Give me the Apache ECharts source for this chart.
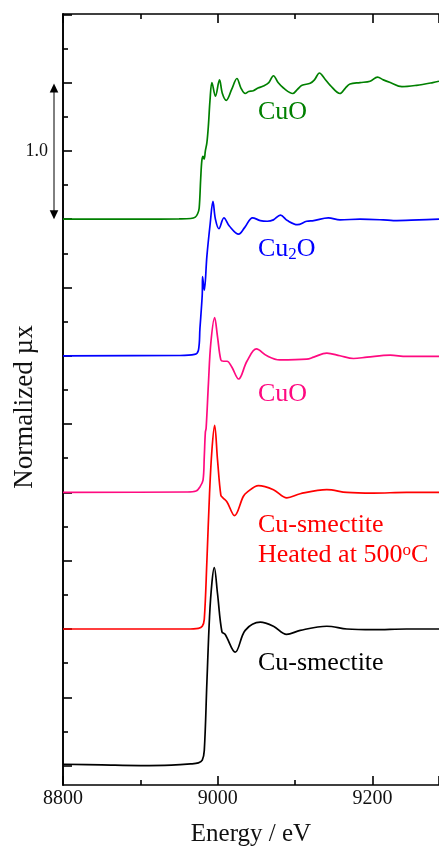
<!DOCTYPE html>
<html>
<head>
<meta charset="utf-8">
<script src="https://cdn.jsdelivr.net/npm/echarts@6/dist/echarts.min.js"></script>
<style>html,body{margin:0;padding:0;background:#fff}#c{width:439px;height:846px}</style>
</head>
<body>
<div id="c"></div>
<script>
// ---- data (energy in eV, normalized absorption) ----
const seriesNames = ['CuO', 'Cu2O', 'CuO (ref)', 'Cu-smectite 500C', 'Cu-smectite'];
const offsets = [4, 3, 2, 1, 0];

const cuoTopE  = [8800,8900,8950,8965,8971,8974,8976,8978,8979.5,8981,8982.5,8984,8986,8988,8990,8992.5,8997,9002.3,9006,9011,9018,9024.8,9030,9035.5,9040,9046,9052,9059,9066,9072,9078,9085,9097,9103,9109,9119.5,9125,9131.5,9138,9145.4,9158,9165,9171,9184,9197,9206.5,9214,9223,9238,9257,9278,9286];
const cuoTopMu = [0,0,0.002,0.005,0.015,0.04,0.08,0.3,0.43,0.46,0.44,0.5,0.56,0.69,0.87,1.0,0.9,1.02,0.92,0.87,0.95,1.03,0.96,0.92,0.935,0.94,0.96,0.975,1.0,1.05,1.0,0.96,0.92,0.95,0.98,0.995,1.02,1.07,1.03,0.98,0.92,0.96,0.99,1.0,1.01,1.04,1.02,1.0,0.97,0.98,1.0,1.01];

const cu2oE  = [8800,8950,8970,8975,8977,8980,8980.4,8982.6,8986,8990.3,8993.8,8997,9001.5,9008,9015,9027,9035,9045,9055,9064,9072,9081,9090,9103,9115,9124,9143,9158,9184,9214,9227,9260,9286];
const cu2oMu = [0,0.002,0.01,0.04,0.2,0.45,0.58,0.48,0.73,0.97,1.13,1.0,0.93,1.01,0.95,0.89,0.94,1.01,0.99,0.985,0.995,1.03,0.99,0.96,0.985,0.99,1.01,0.995,1.0,0.995,0.99,0.995,1.0];

const cuoRefE  = [8800,8960,8972,8977,8981,8982.6,8984,8985,8988,8991,8996,8999.7,9004,9007.5,9012,9018,9027,9037.7,9050,9063.6,9080,9115,9124,9141,9158,9175.5,9193,9223,9244,9286];
const cuoRefMu = [0,0.003,0.01,0.04,0.09,0.26,0.44,0.47,0.8,1.09,1.28,1.14,0.97,0.96,0.96,0.92,0.83,0.96,1.05,1.0,0.97,0.975,0.99,1.02,1.0,0.98,0.99,1.005,0.995,0.995];

const heatedE  = [8800,8960,8975,8980,8982.6,8986,8989.4,8992.5,8996,8999.7,9004,9006.7,9012,9021.7,9033,9037.7,9052.7,9072,9089.4,9106.6,9141,9167,9201,9244,9286];
const heatedMu = [0,0,0.005,0.02,0.07,0.5,0.99,1.31,1.49,1.24,0.98,0.96,0.93,0.83,0.97,1.0,1.05,1.02,0.96,0.99,1.02,1.0,0.995,1.0,1.0];

const smectE  = [8800,8850,8900,8940,8965,8975,8980,8982.6,8986,8989.4,8992.5,8995.5,8999.7,9005.4,9009.7,9022.6,9035.5,9055,9072,9089,9106.6,9141,9167,9201,9244,9286];
const smectMu = [0.01,0.005,0,0.003,0.012,0.02,0.04,0.11,0.61,1.09,1.34,1.45,1.26,0.98,0.96,0.83,0.99,1.05,1.02,0.96,0.99,1.02,1.0,0.995,1.0,1.0];

const colors = ['#008000', '#0000ff', '#ff0a80', '#ff0000', '#000000'];
const yMajorTicks = [0,0.5,1,1.5,2,2.5,3,3.5,4,4.5,5,5.5];
const yMinorTicks = [0.25,0.75,1.25,1.75,2.25,2.75,3.25,3.75,4.25,4.75,5.25];
const scaleLabelValue = 4.5;
const scaleLabelText = '1.0';
const yTitle = 'Normalized µx';
const xTitle = 'Energy / eV';

const allE = [cuoTopE, cu2oE, cuoRefE, heatedE, smectE];
const allMu = [cuoTopMu, cu2oMu, cuoRefMu, heatedMu, smectMu];

const FONT = "'Liberation Serif','Times New Roman',serif";
const chart = echarts.init(document.getElementById('c'), null, {renderer: 'canvas'});

const series = allE.map((E, i) => ({
  name: seriesNames[i],
  type: 'line',
  xAxisIndex: 0,
  yAxisIndex: 0,
  data: E.map((e, k) => [e, allMu[i][k] + offsets[i]]),
  showSymbol: false,
  smooth: 0.35,
  lineStyle: {color: colors[i], width: 1.7},
  itemStyle: {color: colors[i]},
  animation: false
}));

const yCommon = {
  type: 'value', position: 'left', min: -0.142, max: 5.502,
  axisLine: {show: true, lineStyle: {color: '#000', width: 1.6}},
  splitLine: {show: false}
};

chart.setOption({
  animation: false,
  backgroundColor: '#fff',
  grid: {left: 63, right: 0, top: 14, bottom: 61, containLabel: false, outerBoundsMode: 'none'},
  xAxis: [
    {
      type: 'value', position: 'bottom', min: 8800, max: 9286, interval: 200,
      axisLine: {show: true, onZero: false, lineStyle: {color: '#000', width: 1.6}},
      axisTick: {show: true, inside: true, length: 9, lineStyle: {color: '#000', width: 1.6}},
      minorTick: {show: true, splitNumber: 2, length: 5, lineStyle: {color: '#000', width: 1.6}},
      axisLabel: {show: true, color: '#111', fontSize: 20, fontFamily: FONT, margin: 4,
        formatter: v => String(v), hideOverlap: false, showMinLabel: true, showMaxLabel: false},
      splitLine: {show: false}, minorSplitLine: {show: false},
      name: xTitle, nameLocation: 'middle', nameGap: 37, nameMoveOverlap: false,
      nameTextStyle: {color: '#111', fontSize: 25, fontFamily: FONT}
    },
    {
      type: 'value', position: 'top', min: 8800, max: 9286, interval: 200,
      axisLine: {show: true, onZero: false, lineStyle: {color: '#000', width: 1.6}},
      axisTick: {show: true, inside: true, length: 9, lineStyle: {color: '#000', width: 1.6}},
      minorTick: {show: true, splitNumber: 2, length: 5, lineStyle: {color: '#000', width: 1.6}},
      axisLabel: {show: false},
      splitLine: {show: false}, minorSplitLine: {show: false}
    }
  ],
  yAxis: [
    Object.assign({}, yCommon, {
      axisTick: {show: true, inside: true, length: 9, customValues: yMajorTicks, lineStyle: {color: '#000', width: 1.6}},
      axisLabel: {show: true, customValues: [scaleLabelValue], formatter: () => scaleLabelText,
        color: '#111', fontSize: 18, fontFamily: FONT, margin: 15}
    }),
    Object.assign({}, yCommon, {
      axisTick: {show: true, inside: true, length: 5, customValues: yMinorTicks, lineStyle: {color: '#000', width: 1.6}},
      axisLabel: {show: false}
    })
  ],
  series: series
});

// annotations: scale arrow, y title and curve labels
const yTop = chart.convertToPixel({yAxisIndex: 0}, 5);
const yBot = chart.convertToPixel({yAxisIndex: 0}, 4);
const ax = 54;
const lblStyle = (txt, x, y, color) => ({
  type: 'text', left: x, top: y,
  style: {text: txt, fill: color, font: "26px 'Liberation Serif','Times New Roman',serif",
    rich: {
      sub: {fontSize: 17, fontFamily: FONT, fill: color, padding: [12, 0, 0, 0]},
      sup: {fontSize: 17, fontFamily: FONT, fill: color, padding: [0, 0, 10, 0]},
      n: {fontSize: 26, fontFamily: FONT, fill: color}
    }}
});
chart.setOption({
  graphic: [
    {type: 'line', shape: {x1: ax, y1: yTop + 6, x2: ax, y2: yBot - 6}, style: {stroke: '#000', lineWidth: 1}},
    {type: 'polygon', shape: {points: [[ax, yTop + 1], [ax - 4.3, yTop + 10], [ax + 4.3, yTop + 10]]}, style: {fill: '#000'}},
    {type: 'polygon', shape: {points: [[ax, yBot], [ax - 4.3, yBot - 9], [ax + 4.3, yBot - 9]]}, style: {fill: '#000'}},
    {type: 'text', x: 25, y: 407, rotation: Math.PI / 2,
      style: {text: yTitle, fill: '#111', font: "27px 'Liberation Serif','Times New Roman',serif",
        align: 'center', verticalAlign: 'middle'}},
    lblStyle('{n|CuO}', 258, 99, colors[0]),
    lblStyle('{n|Cu}{sub|2}{n|O}', 258, 236, colors[1]),
    lblStyle('{n|CuO}', 258, 381, colors[2]),
    lblStyle('{n|Cu-smectite}', 258, 512, colors[3]),
    lblStyle('{n|Heated at 500}{sup|o}{n|C}', 258, 542, colors[3]),
    lblStyle('{n|Cu-smectite}', 258, 650, colors[4])
  ]
});
</script>
</body>
</html>
